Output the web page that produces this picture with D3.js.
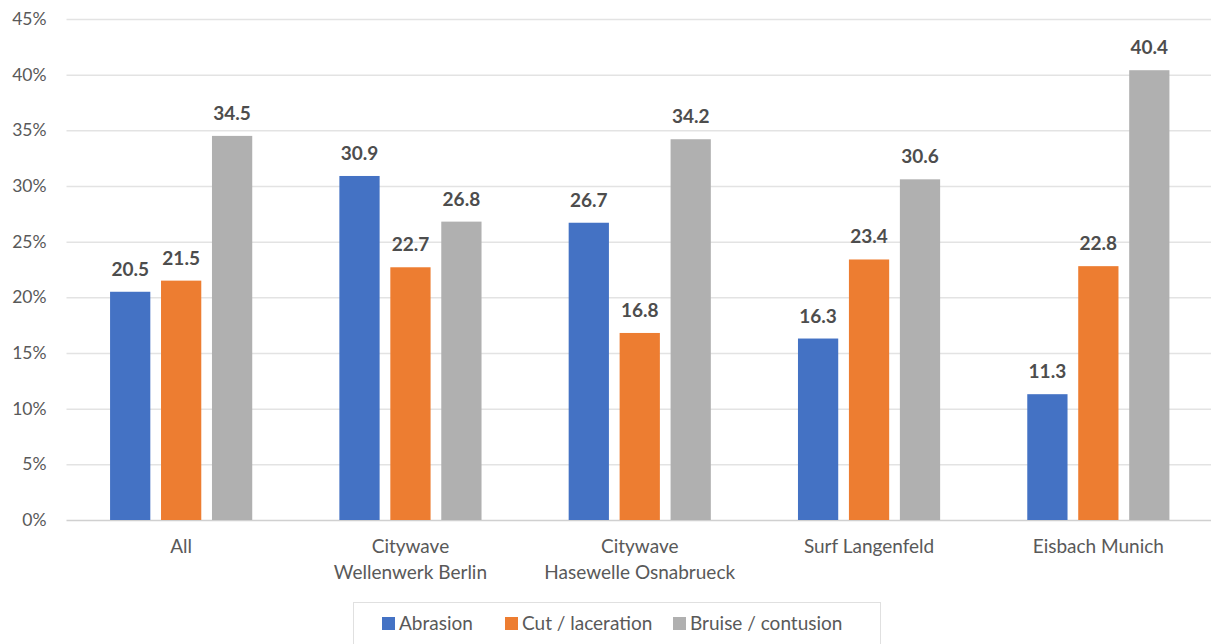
<!DOCTYPE html>
<html>
<head>
<meta charset="utf-8">
<script src="https://cdn.jsdelivr.net/npm/d3@7"></script>
<style>
  html, body { margin: 0; padding: 0; background: #fff; }
  svg { display: block; font-family: Lato, "Open Sans", "Liberation Sans", sans-serif; }
</style>
</head>
<body>
<svg id="chart" width="1211" height="644"></svg>
<script>
// Injury type share by surf location
const categories = [
  ["All"],
  ["Citywave", "Wellenwerk Berlin"],
  ["Citywave", "Hasewelle Osnabrueck"],
  ["Surf Langenfeld"],
  ["Eisbach Munich"]
];
const seriesNames = ["Abrasion", "Cut / laceration", "Bruise / contusion"];
const abrasion = [20.5, 30.9, 26.7, 16.3, 11.3];
const cutLaceration = [21.5, 22.7, 16.8, 23.4, 22.8];
const bruiseContusion = [34.5, 26.8, 34.2, 30.6, 40.4];
const yTicks = [0, 5, 10, 15, 20, 25, 30, 35, 40, 45];
const colors = ["#4472C4", "#ED7D31", "#B0B0B0"];

const series = [abrasion, cutLaceration, bruiseContusion];
const rows = categories.map((c, i) => ({
  key: c.join(" "),
  lines: c,
  values: series.map((s, j) => ({ name: seriesNames[j], value: s[i], idx: j }))
}));

const svg = d3.select("#chart");
const plotLeft = 66.5, plotRight = 1213, plotTop = 19, plotBottom = 520;

const x0 = d3.scaleBand()
  .domain(rows.map(r => r.key))
  .range([plotLeft, plotRight])
  .paddingInner(0.38)
  .paddingOuter(0.19);

const x1 = d3.scaleBand()
  .domain(seriesNames)
  .range([0, x0.bandwidth()])
  .paddingInner(0.21);

const y = d3.scaleLinear().domain([0, 45]).range([plotBottom, plotTop]);

// Gridlines and y tick labels
const yAxis = d3.axisLeft(y)
  .tickValues(yTicks)
  .tickSize(-(plotRight - plotLeft))
  .tickPadding(20)
  .tickFormat(d => d + "%");

const gy = svg.append("g")
  .attr("transform", `translate(${plotLeft},0)`)
  .call(yAxis);
gy.select(".domain").remove();
gy.selectAll(".tick line")
  .attr("stroke", d => d === 0 ? "#D0D0D0" : "#E3E3E3")
  .attr("stroke-width", 1.5);
gy.selectAll(".tick text")
  .attr("fill", "#595959")
  .attr("font-size", 17.5)
  .attr("font-family", "Lato, 'Open Sans', sans-serif");

// Bars
const groups = svg.append("g").selectAll("g")
  .data(rows)
  .join("g")
  .attr("transform", d => `translate(${x0(d.key)},0)`);

groups.selectAll("rect")
  .data(d => d.values)
  .join("rect")
  .attr("x", d => x1(d.name))
  .attr("y", d => y(d.value))
  .attr("width", x1.bandwidth())
  .attr("height", d => y(0) - y(d.value))
  .attr("fill", d => colors[d.idx]);

// Value labels
groups.selectAll("text.val")
  .data(d => d.values)
  .join("text")
  .attr("class", "val")
  .attr("x", d => x1(d.name) + x1.bandwidth() / 2)
  .attr("y", d => y(d.value) - 16)
  .attr("text-anchor", "middle")
  .attr("font-size", 19)
  .attr("font-weight", "bold")
  .attr("fill", "#4D4D4D")
  .text(d => d.value.toFixed(1));

// Category labels
const xAxisG = svg.append("g");
rows.forEach(r => {
  const t = xAxisG.append("text")
    .attr("x", x0(r.key) + x0.bandwidth() / 2)
    .attr("y", 553)
    .attr("text-anchor", "middle")
    .attr("font-size", 19)
    .attr("fill", "#595959");
  r.lines.forEach((line, i) => {
    t.append("tspan")
      .attr("x", x0(r.key) + x0.bandwidth() / 2)
      .attr("dy", i === 0 ? 0 : 26)
      .text(line);
  });
});

// Legend
const legend = svg.append("g");
legend.append("rect")
  .attr("x", 353.5).attr("y", 602.5)
  .attr("width", 527).attr("height", 50)
  .attr("fill", "#fff")
  .attr("stroke", "#E0E0E0");

const legendX = [382, 505, 673];
seriesNames.forEach((name, i) => {
  const g = legend.append("g").attr("transform", `translate(${legendX[i]},0)`);
  g.append("rect")
    .attr("x", 0).attr("y", 617)
    .attr("width", 13).attr("height", 13)
    .attr("fill", colors[i]);
  g.append("text")
    .attr("x", 17).attr("y", 630)
    .attr("font-size", 19)
    .attr("fill", "#595959")
    .text(name);
});
</script>
</body>
</html>
